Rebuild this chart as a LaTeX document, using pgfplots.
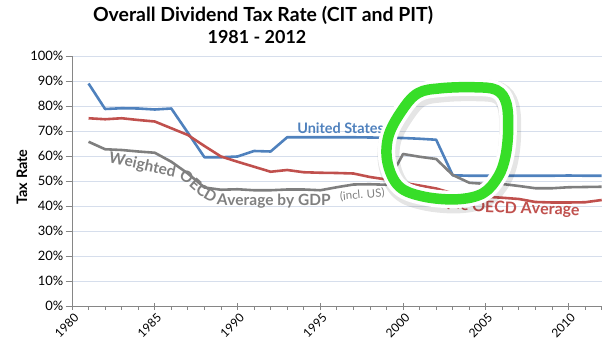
\documentclass[border=0pt]{standalone}
\usepackage{pgfplots}
\pgfplotsset{compat=1.18}
\usepackage{pgfplotstable}
\usepackage{fontspec}
\setmainfont{Lato}
\usetikzlibrary{decorations.text}
\definecolor{usblue}{HTML}{4F81BD}
\definecolor{oecdred}{HTML}{C0504D}
\definecolor{wgray}{HTML}{7F7F7F}
\definecolor{gridc}{RGB}{214,222,236}
\definecolor{axc}{RGB}{134,134,134}
\definecolor{hgreen}{RGB}{55,222,40}

\pgfplotstableread{
year val
1981 89.0
1982 78.8
1983 79.1
1984 79.0
1985 78.6
1986 79.0
1987 69.3
1988 59.5
1989 59.5
1990 59.8
1991 62.0
1992 61.8
1993 67.5
1994 67.5
1995 67.5
1996 67.5
1997 67.5
1998 67.4
1999 67.3
2000 67.2
2001 66.9
2002 66.5
2003 52.3
2004 52.1
2005 52.1
2006 52.1
2007 52.1
2008 52.1
2009 52.1
2010 52.2
2011 52.1
2012 52.1
}\usdata

\pgfplotstableread{
year val
1981 75.1
1982 74.7
1983 75.1
1984 74.4
1985 73.8
1986 71.1
1987 68.4
1988 64.0
1989 59.8
1990 57.7
1991 55.7
1992 53.7
1993 54.4
1994 53.5
1995 53.3
1996 53.2
1997 53.0
1998 51.6
1999 50.6
2000 49.3
2001 48.2
2002 47.0
2003 45.1
2004 44.3
2005 43.7
2006 43.3
2007 42.8
2008 41.6
2009 41.4
2010 41.4
2011 41.5
2012 42.4
}\oecddata

\pgfplotstableread{
year val
1981 65.7
1982 62.7
1983 62.4
1984 61.8
1985 61.3
1986 57.7
1987 53.0
1988 47.4
1989 46.5
1990 46.7
1991 46.3
1992 46.3
1993 46.6
1994 46.6
1995 46.3
1996 47.5
1997 48.6
1998 48.7
1999 48.5
2000 60.8
2001 59.7
2002 58.8
2003 52.4
2004 49.3
2005 48.8
2006 48.8
2007 48.0
2008 47.1
2009 47.1
2010 47.5
2011 47.6
2012 47.7
}\wdata

\begin{document}
\begin{tikzpicture}
\useasboundingbox (-72bp,-46bp) rectangle (538bp,306bp);
\begin{axis}[
  at={(0,0)}, anchor=south west,
  scale only axis, width=529.7bp, height=250bp,
  xmin=1980, xmax=2012, ymin=0, ymax=100,
  axis lines*=left,
  axis line style={axc, line width=0.8pt},
  xtick={1980,1985,...,2010},
  xticklabels={1980,1985,1990,1995,2000,2005,2010},
  minor xtick={1981,...,2012},
  ytick={0,10,...,100},
  yticklabels={0\%,10\%,20\%,30\%,40\%,50\%,60\%,70\%,80\%,90\%,100\%},
  tick style={axc, line width=0.8pt},
  tick align=center,
  major tick length=7bp,
  minor tick length=3.5bp,
  minor x tick style={yshift=-1.75bp},
  y tick style={xshift=-3bp},
  ymajorgrids,
  major grid style={gridc, line width=0.8pt},
  x tick label style={rotate=45, anchor=north east, font=\fontsize{12}{14}\selectfont, inner sep=1pt, yshift=-2bp},
  y tick label style={font=\fontsize{13}{15}\selectfont, inner sep=1pt, xshift=-4bp},
  ylabel={Tax Rate},
  ylabel style={at={(rel axis cs:0,0.5)}, anchor=center, yshift=50bp, xshift=4bp, font=\fontsize{14.5}{16}\bfseries},
  clip=false,
]
\addplot[usblue, line width=2.6pt, line join=round] table[x=year,y=val] {\usdata};
\addplot[oecdred, line width=2.6pt, line join=round] table[x=year,y=val] {\oecddata};
\addplot[wgray, line width=2.6pt, line join=round] table[x=year,y=val] {\wdata};

\node[anchor=base west, inner sep=0pt, text=usblue, font=\fontsize{14.5}{16}\bfseries] at (axis cs:1993.6,68.9) {United States};

\path[decorate, decoration={text along path, text={|\fontsize{15.5}{17}\bfseries\color{wgray}|Weighted OECD Average by GDP}}]
  (axis cs:1982.18,57.4) -- (axis cs:1986.42,51.2) .. controls (axis cs:1987.27,48.0) and (axis cs:1987.94,40.8) .. (axis cs:1989.09,40.2) -- (axis cs:2001.1,40.2);
\node[anchor=base west, inner sep=0pt, text=wgray, font=\fontsize{11.5}{13}\selectfont, rotate=5] at (axis cs:1996.2,42.2) {(incl. US)};

\path[decorate, decoration={text along path, text={|\fontsize{16}{18}\bfseries\color{oecdred}|Simple OECD Average}}]
  (axis cs:2001.15,42.8) .. controls (axis cs:2002.8,39.6) .. (axis cs:2004.3,37.6) -- (axis cs:2012,35.9);

% hand-drawn highlight
\draw[black, opacity=0.10, line width=22bp, xshift=2bp, yshift=-3bp] plot[smooth cycle, tension=0.6] coordinates {
 (axis cs:1999.88,77.7) (axis cs:2000.89,85.1) (axis cs:2002.3,87.1) (axis cs:2004.32,87.5) (axis cs:2005.64,86.4)
 (axis cs:2006.24,81.1) (axis cs:2006.35,70.4) (axis cs:2006.18,59.7) (axis cs:2005.74,51.7) (axis cs:2004.83,45.1)
 (axis cs:2003.31,42.7) (axis cs:2001.29,43.7) (axis cs:1999.78,47.7) (axis cs:1999.07,57.1) (axis cs:1999.11,67.7)};
\draw[white, line width=17.5bp] plot[smooth cycle, tension=0.6] coordinates {
 (axis cs:1999.88,77.7) (axis cs:2000.89,85.1) (axis cs:2002.3,87.1) (axis cs:2004.32,87.5) (axis cs:2005.64,86.4)
 (axis cs:2006.24,81.1) (axis cs:2006.35,70.4) (axis cs:2006.18,59.7) (axis cs:2005.74,51.7) (axis cs:2004.83,45.1)
 (axis cs:2003.31,42.7) (axis cs:2001.29,43.7) (axis cs:1999.78,47.7) (axis cs:1999.07,57.1) (axis cs:1999.11,67.7)};
\draw[hgreen, line width=10.5bp] plot[smooth cycle, tension=0.6] coordinates {
 (axis cs:1999.88,77.7) (axis cs:2000.89,85.1) (axis cs:2002.3,87.1) (axis cs:2004.32,87.5) (axis cs:2005.64,86.4)
 (axis cs:2006.24,81.1) (axis cs:2006.35,70.4) (axis cs:2006.18,59.7) (axis cs:2005.74,51.7) (axis cs:2004.83,45.1)
 (axis cs:2003.31,42.7) (axis cs:2001.29,43.7) (axis cs:1999.78,47.7) (axis cs:1999.07,57.1) (axis cs:1999.11,67.7)};
\end{axis}
\node[font=\fontsize{19.5}{22}\bfseries] at (191bp,291bp) {Overall Dividend Tax Rate (CIT and PIT)};
\node[font=\fontsize{18}{21}\bfseries] at (185bp,269bp) {1981 - 2012};
\end{tikzpicture}
\end{document}
